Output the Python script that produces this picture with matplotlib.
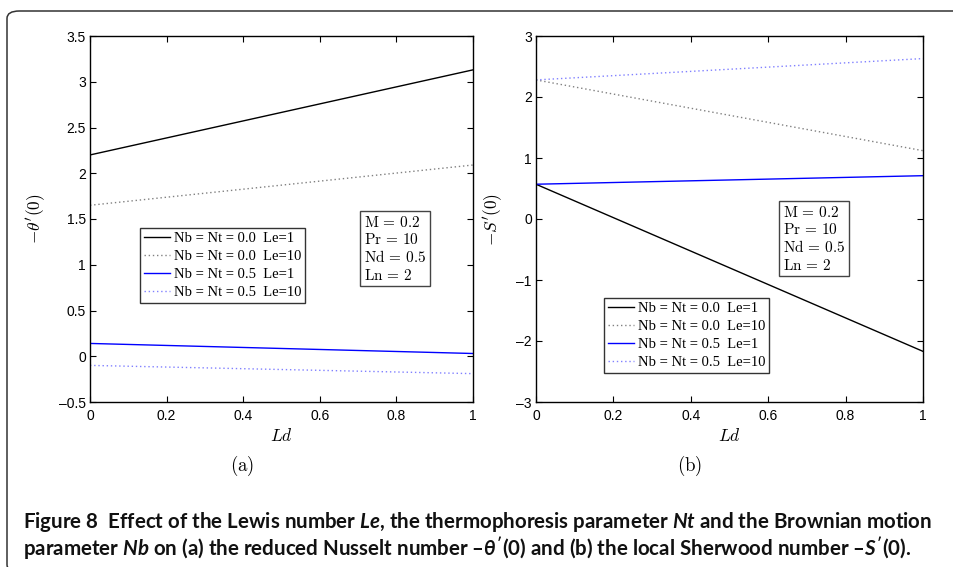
import matplotlib
matplotlib.use("Agg")
import matplotlib.pyplot as plt
from matplotlib.patches import FancyBboxPatch

# ---------------- data ----------------
ld = [0.0, 1.0]
theta_nb0_le1 = [2.20, 3.13]
theta_nb0_le10 = [1.65, 2.09]
theta_nb05_le1 = [0.14, 0.03]
theta_nb05_le10 = [-0.10, -0.19]

sher_nb0_le1 = [0.57, -2.17]
sher_nb0_le10 = [2.28, 1.12]
sher_nb05_le1 = [0.57, 0.71]
sher_nb05_le10 = [2.28, 2.63]

series_labels = ["Nb = Nt = 0.0  Le=1", "Nb = Nt = 0.0  Le=10",
                 "Nb = Nt = 0.5  Le=1", "Nb = Nt = 0.5  Le=10"]

xticks = [0, 0.2, 0.4, 0.6, 0.8, 1]
xticklabels = ["0", "0.2", "0.4", "0.6", "0.8", "1"]
yticks_a = [-0.5, 0, 0.5, 1, 1.5, 2, 2.5, 3, 3.5]
yticklabels_a = ["\u20130.5", "0", "0.5", "1", "1.5", "2", "2.5", "3", "3.5"]
yticks_b = [-3, -2, -1, 0, 1, 2, 3]
yticklabels_b = ["\u20133", "\u20132", "\u20131", "0", "1", "2", "3"]

param_text = "$\\mathrm{M}\\,=\\,0.2$\n$\\mathrm{Pr}\\,=\\,10$\n$\\mathrm{Nd}\\,=\\,0.5$\n$\\mathrm{Ln}\\,=\\,2$"

caption1 = ("Figure 8  Effect of the Lewis number $\\mathit{Le}$, the thermophoresis parameter "
            "$\\mathit{Nt}$ and the Brownian motion")
caption2 = ("parameter $\\mathit{Nb}$ on (a) the reduced Nusselt number \u2013$\\mathit{\\theta'}$(0) "
            "and (b) the local Sherwood number \u2013$\\mathit{S'}$(0).")

# ---------------- style ----------------
plt.rcParams["mathtext.fontset"] = "custom"
plt.rcParams["mathtext.rm"] = "Lato:bold"
plt.rcParams["mathtext.it"] = "Lato:bold:italic"
plt.rcParams["mathtext.bf"] = "Lato:bold"

W, H = 954, 567
fig = plt.figure(figsize=(W / 100, H / 100), dpi=100)


def fx(px):
    return px / W


def fy(py):
    return 1 - py / H


# outer rounded frame
frame = FancyBboxPatch((fx(7), fy(572)), fx(980) - fx(7), fy(11) - fy(572),
                       boxstyle="round,pad=0,rounding_size=0.013",
                       transform=fig.transFigure, facecolor="none",
                       edgecolor="#333333", linewidth=1.1, clip_on=False)
fig.patches.append(frame)

tick_font = dict(family="Liberation Sans", size=10)
legend_font = dict(family="Liberation Serif", size=10.5)

solid_k = dict(color="black", linestyle="-", linewidth=1.0)
dot_gray = dict(color="#808080", linestyle=(0, (1, 2)), linewidth=1.0)
solid_b = dict(color="#0000ff", linestyle="-", linewidth=1.0)
dot_b = dict(color="#8080ff", linestyle=(0, (1, 2)), linewidth=1.0)


def setup(ax, yticks, yticklabels, ylim):
    ax.set_xlim(0, 1)
    ax.set_ylim(*ylim)
    ax.set_xticks(xticks)
    ax.set_xticklabels(xticklabels, fontdict=tick_font)
    ax.set_yticks(yticks)
    ax.set_yticklabels(yticklabels, fontdict=tick_font)
    ax.tick_params(direction="in", length=4, width=0.8, top=True, right=True,
                   colors="black")
    ax.tick_params(axis="x", pad=5)
    ax.tick_params(axis="y", pad=3)
    for s in ax.spines.values():
        s.set_linewidth(1.0)
    ax.set_xlabel("$Ld$", fontsize=12.5, math_fontfamily="cm", labelpad=3)


def legend_at(handles, x, y):
    lg = fig.legend(handles, series_labels, loc="upper left",
                    bbox_to_anchor=(fx(x), fy(y)), prop=legend_font,
                    frameon=True, fancybox=False, handlelength=1.8,
                    handletextpad=0.3, labelspacing=0.33, borderpad=0.25,
                    borderaxespad=0)
    lg.get_frame().set_edgecolor("black")
    lg.get_frame().set_linewidth(1.0)
    return lg


def param_box(x, y):
    fig.text(fx(x), fy(y), param_text, ha="left", va="top", fontsize=11,
             math_fontfamily="cm", linespacing=1.18,
             bbox=dict(boxstyle="square,pad=0.25", facecolor="white",
                       edgecolor="#444444", linewidth=1.0))


# ---------------- panel (a) ----------------
axa = fig.add_axes([fx(90), fy(402), fx(473) - fx(90), fy(36) - fy(402)])
la = [axa.plot(ld, theta_nb0_le1, **solid_k)[0],
      axa.plot(ld, theta_nb0_le10, **dot_gray)[0],
      axa.plot(ld, theta_nb05_le1, **solid_b)[0],
      axa.plot(ld, theta_nb05_le10, **dot_b)[0]]
setup(axa, yticks_a, yticklabels_a, (-0.5, 3.5))
axa.set_ylabel("$-\\theta'(0)$", fontsize=12.5, math_fontfamily="cm")
axa.yaxis.set_label_coords((48 - 90) / 383, 0.5)
legend_at(la, 140, 228)
param_box(364, 215)
fig.text(fx(242), fy(466), "$\\mathrm{(a)}$", ha="center", va="center",
         fontsize=13.5, math_fontfamily="cm")

# ---------------- panel (b) ----------------
axb = fig.add_axes([fx(536), fy(402), fx(923) - fx(536), fy(36) - fy(402)])
lb = [axb.plot(ld, sher_nb0_le1, **solid_k)[0],
      axb.plot(ld, sher_nb0_le10, **dot_gray)[0],
      axb.plot(ld, sher_nb05_le1, **solid_b)[0],
      axb.plot(ld, sher_nb05_le10, **dot_b)[0]]
setup(axb, yticks_b, yticklabels_b, (-3, 3))
axb.set_ylabel("$-S'(0)$", fontsize=12.5, math_fontfamily="cm")
axb.yaxis.set_label_coords((505 - 536) / 387, 0.5)
legend_at(lb, 604, 298)
param_box(783, 205)
fig.text(fx(690), fy(466), "$\\mathrm{(b)}$", ha="center", va="center",
         fontsize=13.5, math_fontfamily="cm")

# ---------------- caption ----------------
t1 = fig.text(fx(23), fy(522), caption1, ha="left", va="center", fontsize=12,
              family="Lato", weight="bold", color="#111111")
t2 = fig.text(fx(23), fy(548), caption2, ha="left", va="center", fontsize=12,
              family="Lato", weight="bold", color="#111111")
renderer = fig.canvas.get_renderer()
w1 = t1.get_window_extent(renderer).width
size = 12 * 909 / w1
t1.set_fontsize(size)
t2.set_fontsize(size)

fig.savefig("out.png", dpi=100)
